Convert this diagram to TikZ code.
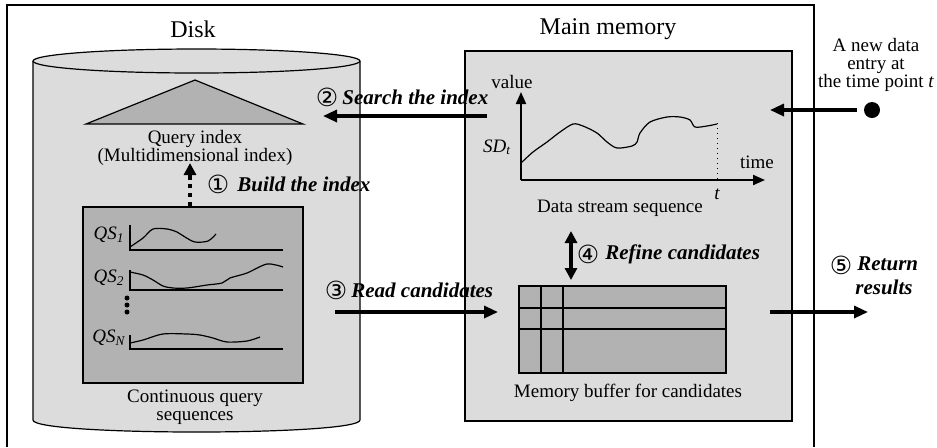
\documentclass[tikz,border=0pt]{standalone}
\usepackage{fontspec}
\setmainfont{Liberation Serif}
\newfontfamily\circfont{DejaVu Sans}
\usetikzlibrary{arrows.meta}
\definecolor{lightgrey}{HTML}{DCDCDC}
\definecolor{midgrey}{HTML}{B2B2B2}
\newcommand{\circnum}[1]{{\circfont\fontsize{12.5}{12}\selectfont #1}}

\begin{document}
\begin{tikzpicture}[x=0.5pt, y=-0.5pt,
    every node/.style={font=\fontsize{9.5}{9}\selectfont, inner sep=0pt, align=center},
    title/.style={font=\fontsize{12}{14}\selectfont},
    stepname/.style={font=\fontsize{10.5}{12}\selectfont\bfseries\itshape, anchor=west},
    stepno/.style={anchor=center},
    boxline/.style={line width=0.6pt},
    flow/.style={line width=1.6pt, -{Triangle[length=7pt,width=6pt]}},
    axis/.style={line width=1pt, -{Triangle[length=6pt,width=5pt]}},
    sig/.style={line width=0.6pt}]
  \useasboundingbox (0,0) rectangle (937,447);

  % frame round both parts
  \draw[boxline] (7,447) -- (7,5) -- (814,5) -- (814,447);

  % disk
  \node[title] (disk) at (193,29) {Disk};
  \draw[boxline, fill=lightgrey] (33,61) -- (33,420) .. controls (33,436) and (360,436) .. (360,420) -- (360,61);
  \draw[boxline, fill=lightgrey] (196.5,61) ellipse [x radius=163.5, y radius=12];
  \draw[boxline, fill=midgrey] (86,124) -- (195,80) -- (303,124) -- cycle;
  \node (qidx) at (195,148) {Query index\\(Multidimensional index)};

  \draw[boxline, fill=midgrey] (83,207) rectangle (303,383);
  \node (qs1) at (109,235) {\itshape QS\textsubscript{1}};
  \node (qs2) at (109,278) {\itshape QS\textsubscript{2}};
  \node (qsn) at (109,338) {\itshape QS\textsubscript{N}};
  \draw[sig] (130,225) -- (130,250) -- (283,250);
  \draw[sig] (130,270) -- (130,290) -- (283,290);
  \draw[sig] (130,335) -- (130,349) -- (283,349);
  \draw[sig] plot[smooth] coordinates {(130,247) (143,238) (153,229) (167,229) (177,232) (185,237) (195,242) (208,241) (216,234)};
  \draw[sig] plot[smooth] coordinates {(130,272) (143,275) (153,280) (163,286) (173,288) (187,288) (207,285) (222,283) (230,278) (247,273) (267,264) (283,267)};
  \draw[sig] plot[smooth] coordinates {(130,343) (143,340) (163,334) (187,334) (200,335) (213,338) (227,342) (247,341) (260,337)};
  \foreach \y in {298,305,312}
    \fill (127,\y) circle [radius=2.5];
  \node (cqs) at (195,407) {Continuous query\\sequences};

  % main memory
  \node[title] (mem) at (608,29) {Main memory};
  \draw[boxline, fill=lightgrey] (465,51) rectangle (792,421);
  \draw[axis] (521,180) -- (521,92);
  \draw[axis] (521,180) -- (765,180);
  \draw[dotted, line width=0.5pt] (717,123) -- (717,180);
  \draw[sig] plot[smooth] coordinates {(521,163) (533,152) (547,142) (560,132) (573,124) (583,126) (597,133) (607,142) (617,148) (632,146) (637,142) (640,133) (650,122) (667,117) (680,117) (690,120) (695,127) (707,126) (717,124)};
  \node (value) at (512,82) {value};
  \node (time) at (757,162) {time};
  \node (sdt) at (497,147) {\itshape SD\textsubscript{t}};
  \node (tpt) at (717,194) {\itshape t};
  \node (dss) at (620,208) {Data stream sequence};

  \draw[boxline, fill=midgrey] (519,286) rectangle (726,373);
  \draw[boxline] (541,286) -- (541,373);
  \draw[boxline] (563,286) -- (563,373);
  \draw[boxline] (519,308) -- (726,308);
  \draw[boxline] (519,329) -- (726,329);
  \node (mbuf) at (628,393) {Memory buffer for candidates};

  % new entry
  \node (entry) at (876,65) {A new data\\entry at\\the time point \textit{t}};
  \fill (872,110) circle [radius=8];
  \coordinate (dotE) at (857,110);
  \coordinate (memR) at (770,110);
  \draw[flow] (dotE) -- (memR);

  % steps
  \coordinate (buildS) at (190,206);
  \coordinate (buildE) at (190,163);
  \draw[line width=2pt, dash pattern=on 2.2pt off 2.2pt, -{Triangle[length=6pt,width=6pt]}] (buildS) -- (buildE);
  \node[stepno] (c1) at (218,184) {\circnum{①}};
  \node[stepname] (s1) at (237,184) {Build the index};

  \coordinate (searchS) at (487,116);
  \coordinate (searchE) at (323,116);
  \draw[flow] (searchS) -- (searchE);
  \node[stepno] (c2) at (327,97) {\circnum{②}};
  \node[stepname] (s2) at (342,97) {Search the index};

  \coordinate (readS) at (335,312);
  \coordinate (readE) at (498,312);
  \draw[flow] (readS) -- (readE);
  \node[stepno] (c3) at (336,290) {\circnum{③}};
  \node[stepname] (s3) at (351,290) {Read candidates};

  \coordinate (refineS) at (571,231);
  \coordinate (refineE) at (571,280);
  \draw[line width=1.6pt, {Triangle[length=6pt,width=6pt]}-{Triangle[length=6pt,width=6pt]}] (refineS) -- (refineE);
  \node[stepno] (c4) at (588,254) {\circnum{④}};
  \node[stepname] (s4) at (605,254) {Refine candidates};

  \coordinate (retS) at (770,312);
  \coordinate (retE) at (868,312);
  \draw[flow] (retS) -- (retE);
  \node[stepno] (c5) at (841,265) {\circnum{⑤}};
  \node[stepname, align=left, anchor=north west] (s5) at (857,256) {Return\\\hspace*{-1pt}results};
\end{tikzpicture}
\end{document}
